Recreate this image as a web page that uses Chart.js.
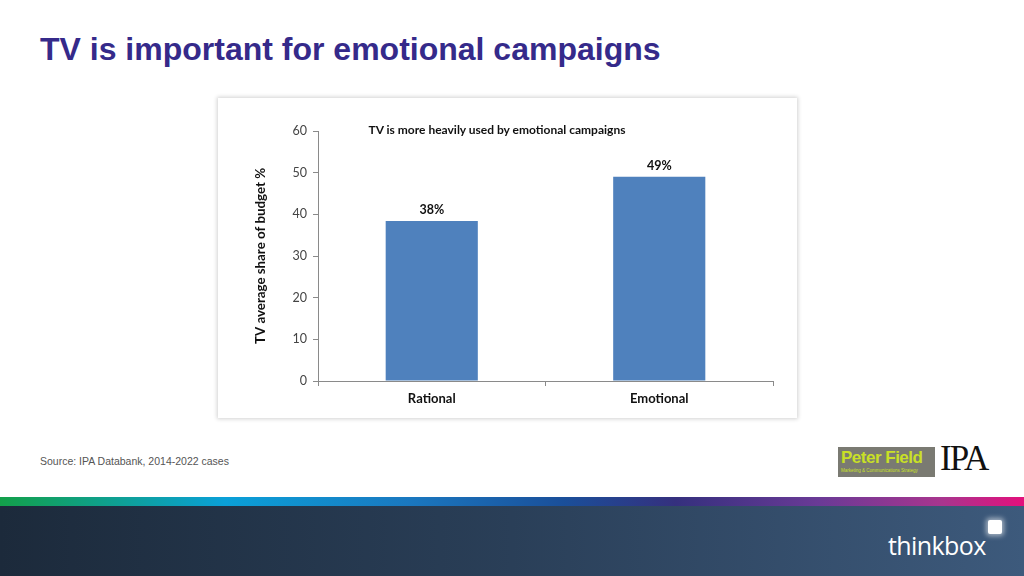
<!DOCTYPE html>
<html>
<head>
<meta charset="utf-8">
<script src="https://cdn.jsdelivr.net/npm/chart.js@4/dist/chart.umd.min.js"></script>
<style>
  html, body { margin: 0; padding: 0; }
  body { width: 1024px; height: 576px; position: relative; overflow: hidden; background: #fff; font-family: "Liberation Sans", Arial, sans-serif; }
  #title { position: absolute; left: 40px; top: 31px; font-size: 32px; font-weight: bold; color: #352a8a; white-space: nowrap; }
  #source { position: absolute; left: 40px; top: 455px; font-size: 10.5px; color: #555; }
  #box { position: absolute; left: 218px; top: 98px; width: 579px; height: 320px; background: #fff; box-shadow: 0 0 4px 1px rgba(0,0,0,0.18); }
  #chartTitle { position: absolute; left: 218px; top: 122px; width: 558px; text-align: center; font-family: Lato, "Open Sans", sans-serif; font-weight: bold; font-size: 12px; color: #111; white-space: nowrap; }
  #stripe { position: absolute; left: 0; top: 497px; width: 1024px; height: 9px;
    background: linear-gradient(to right, #13a04a 0%, #0aa0d8 22%, #1a78c0 40%, #1a4f9a 55%, #35307e 66%, #6a3a96 80%, #a8358e 92%, #e3107c 100%); }
  #band { position: absolute; left: 0; top: 506px; width: 1024px; height: 70px;
    background: linear-gradient(to right, #1c2a3b 0%, #2a3f58 50%, #3d5a7c 100%); }
  #thinkbox { position: absolute; left: 888px; top: 528px; font-family: "Open Sans", sans-serif; font-size: 25px; color: #fff; letter-spacing: -0.6px; }
  #tbsq { position: absolute; left: 988px; top: 520px; width: 14px; height: 14px; background: #fff; border-radius: 2px; box-shadow: 0 0 5px 2px rgba(255,255,255,0.55); }
  #pf { position: absolute; left: 838px; top: 447px; width: 97px; height: 30px; background: #7a7a72; }
  #pf .n { position: absolute; left: 3px; top: 1px; font-family: "Liberation Sans", Arial, sans-serif; font-weight: bold; font-size: 17px; color: #c9e026; letter-spacing: -0.5px; }
  #pf .s { position: absolute; left: 3px; top: 21px; font-size: 4.5px; color: #c9e026; white-space: nowrap; }
  #ipa { position: absolute; left: 940px; top: 439px; font-family: "Liberation Serif", "DejaVu Serif", serif; font-size: 35px; color: #111; letter-spacing: -2px; }
</style>
</head>
<body>
<div id="title">TV is important for emotional campaigns</div>
<div id="box"><canvas id="c" width="579" height="320"></canvas></div>
<div id="chartTitle">TV is more heavily used by emotional campaigns</div>
<div id="source">Source: IPA Databank, 2014-2022 cases</div>
<div id="pf"><span class="n">Peter Field</span><span class="s">Marketing &amp; Communications Strategy</span></div>
<div id="ipa">IPA</div>
<div id="stripe"></div>
<div id="band"></div>
<div id="thinkbox">thinkbox</div>
<div id="tbsq"></div>
<script>
const categories = ["Rational", "Emotional"];
const tvShare = [38.4, 49.0];
const yTicks = [0, 10, 20, 30, 40, 50, 60];
const yAxisTitle = "TV average share of budget %";

const labelFont = 'Lato, "Open Sans", sans-serif';

const valueLabels = {
  id: 'valueLabels',
  afterDatasetsDraw(chart) {
    const ctx = chart.ctx;
    const meta = chart.getDatasetMeta(0);
    ctx.save();
    ctx.font = 'bold 12.5px ' + labelFont;
    ctx.fillStyle = '#111';
    ctx.textAlign = 'center';
    ctx.textBaseline = 'bottom';
    meta.data.forEach((bar, i) => {
      ctx.fillText(Math.round(tvShare[i]) + '%', bar.x, bar.y - 5);
    });
    ctx.restore();
  }
};

new Chart(document.getElementById('c'), {
  type: 'bar',
  data: {
    labels: categories,
    datasets: [{
      data: tvShare,
      backgroundColor: '#4f81bd',
      borderWidth: 0,
      categoryPercentage: 1.0,
      barPercentage: 0.405
    }]
  },
  options: {
    responsive: false,
    animation: false,
    layout: { padding: { left: 35, top: 33, right: 24, bottom: 0 } },
    plugins: { legend: { display: false }, tooltip: { enabled: false }, title: { display: false } },
    scales: {
      x: {
        grid: { drawOnChartArea: false, drawTicks: true, tickLength: 5, color: '#8a8a8a', offset: true },
        border: { color: '#8a8a8a', width: 1 },
        ticks: { color: '#111', font: { family: labelFont, size: 13, weight: 'bold' }, padding: 5 },
        afterFit(scale) { scale.height = 37; }
      },
      y: {
        min: 0, max: 60,
        afterBuildTicks(scale) { scale.ticks = yTicks.map(v => ({ value: v })); },
        grid: { drawOnChartArea: false, drawTicks: true, tickLength: 5, color: '#8a8a8a' },
        border: { color: '#8a8a8a', width: 1 },
        ticks: { color: '#444', font: { family: labelFont, size: 12.5 }, padding: 6 },
        title: { display: true, text: yAxisTitle, color: '#111', font: { family: labelFont, size: 13.3, weight: 'bold' }, padding: { top: 0, bottom: 0 } },
        afterFit(scale) { scale.width = 65; }
      }
    }
  },
  plugins: [valueLabels]
});
</script>
</body>
</html>
